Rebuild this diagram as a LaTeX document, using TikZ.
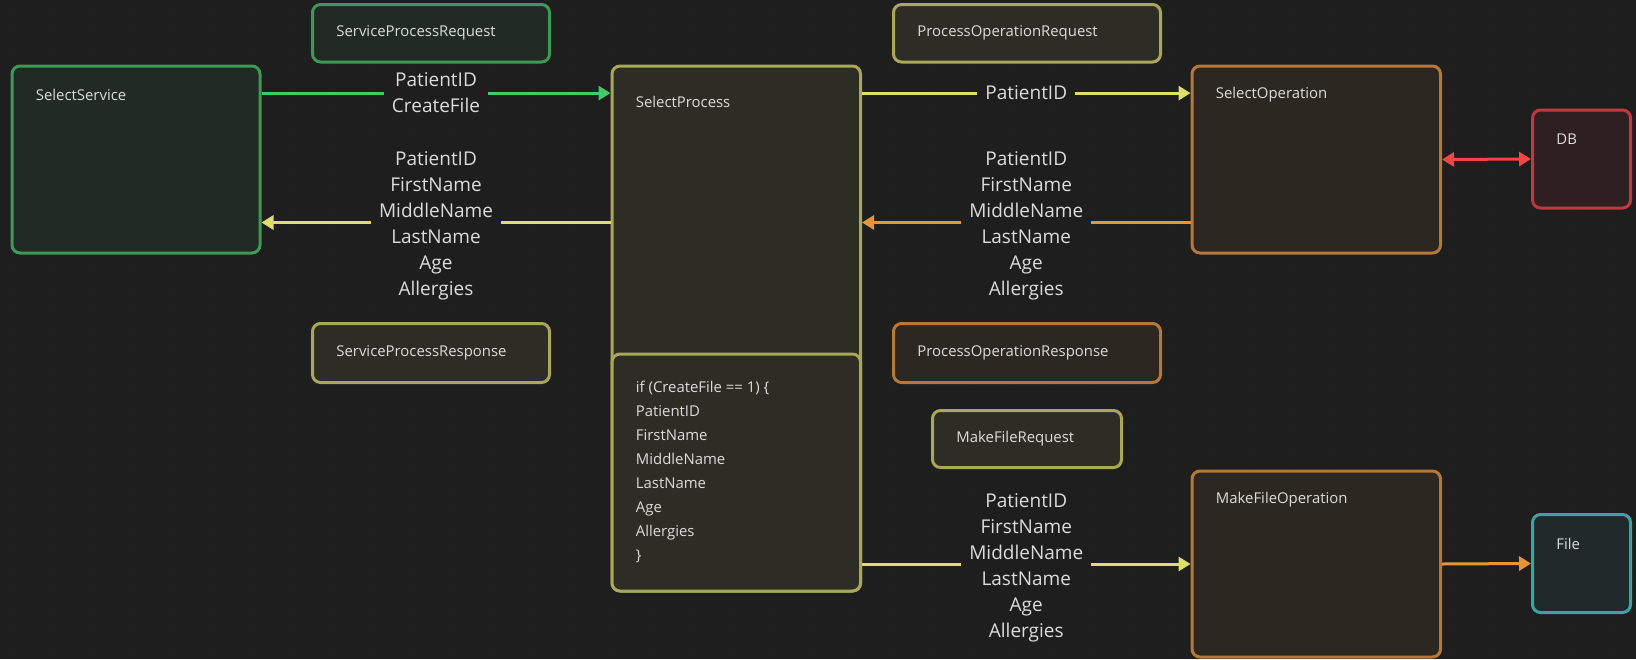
\documentclass[tikz,border=0pt]{standalone}
\usepackage{fontspec}
\setmainfont{Open Sans}
\usepackage{xcolor}
\usetikzlibrary{arrows.meta}

\definecolor{bgc}{HTML}{1E1E1E}
\definecolor{dotc}{HTML}{2C2C2C}
\definecolor{txt}{HTML}{DCDCDC}
\definecolor{gline}{HTML}{3C9A55}\definecolor{gfill}{HTML}{212A24}\definecolor{garrow}{HTML}{45C865}
\definecolor{yline}{HTML}{A9A85A}\definecolor{yfill}{HTML}{2D2C25}\definecolor{yarrow}{HTML}{DEDE6A}
\definecolor{oline}{HTML}{B5773A}\definecolor{ofill}{HTML}{2D2722}\definecolor{oarrow}{HTML}{E8943A}
\definecolor{rline}{HTML}{C0393F}\definecolor{rfill}{HTML}{2E1F21}\definecolor{rarrow}{HTML}{F04646}
\definecolor{tline}{HTML}{3AA5A5}\definecolor{tfill}{HTML}{202A2B}

\begin{document}
\begin{tikzpicture}[
  x=0.5pt, y=-0.5pt,
  box/.style={draw, line width=1.5pt, rounded corners=4pt, anchor=north west, inner sep=0pt},
  gbox/.style={box, draw=gline, fill=gfill},
  ybox/.style={box, draw=yline, fill=yfill},
  obox/.style={box, draw=oline, fill=ofill},
  rbox/.style={box, draw=rline, fill=rfill},
  tbox/.style={box, draw=tline, fill=tfill},
  boxlabel/.style={anchor=west, xshift=12.5pt, text=txt, inner sep=0pt,
                   font=\fontsize{7.45}{12}\selectfont},
  toptitle/.style={label={[boxlabel, yshift=-15.25pt]north west:#1}},
  midtitle/.style={label={[boxlabel]west:#1}},
  flowlabel/.style={fill=bgc, text=txt, align=center, inner xsep=4pt, inner ysep=1pt,
                    font=\fontsize{9.5}{13}\selectfont},
  fields/.style={flowlabel, yshift=-1.8pt},
  tip/.style={-{Triangle[length=6pt,width=7pt]}},
  flow/.style={line width=1.5pt, tip},
  >=Stealth
]
  \useasboundingbox (0,0) rectangle (1636,659);
  \fill[bgc] (0,0) rectangle (1636,659);
  \foreach \i in {0,...,81}
    \foreach \j in {0,...,32}
      \fill[dotc] (12+20*\i,10+20*\j) circle[radius=0.35pt];

  % services and processes
  \node[gbox, minimum width=124pt, minimum height=93.5pt, toptitle=SelectService] (ss) at (10.5,64.5) {};
  \node[gbox, minimum width=118.5pt, minimum height=28.75pt, midtitle=ServiceProcessRequest] (spreq) at (311,3) {};
  \node[ybox, minimum width=118.5pt, minimum height=29.5pt, midtitle=ServiceProcessResponse] (spresp) at (311,322) {};
  \node[ybox, minimum width=124.25pt, minimum height=262.5pt,
        label={[boxlabel, yshift=-18.5pt]north west:SelectProcess}] (sp) at (610.5,64.5) {};
  \node[ybox, minimum width=124.25pt, minimum height=118.5pt] (code) at (610.5,352.5) {};
  \node[anchor=north west, align=left, text=txt, inner sep=0pt, font=\fontsize{7.45}{12}\selectfont]
        (codelines) at ([xshift=12.5pt,yshift=-14.3pt]code.north west)
        {if (CreateFile == 1) \{\\PatientID\\FirstName\\MiddleName\\LastName\\Age\\Allergies\\\}};

  % operations
  \node[ybox, minimum width=133.5pt, minimum height=28.75pt, midtitle=ProcessOperationRequest] (poreq) at (892,3) {};
  \node[obox, minimum width=133.5pt, minimum height=29.5pt, midtitle=ProcessOperationResponse] (poresp) at (892,322) {};
  \node[ybox, minimum width=94.5pt, minimum height=28.5pt, midtitle=MakeFileRequest] (mfreq) at (931,409) {};
  \node[obox, minimum width=124.25pt, minimum height=93.5pt, toptitle=SelectOperation] (so) at (1190.5,64.5) {};
  \node[obox, minimum width=124.25pt, minimum height=93pt, toptitle=MakeFileOperation] (mfo) at (1190.5,469.5) {};
  \node[rbox, minimum width=49pt, minimum height=49pt, toptitle=DB] (db) at (1531,108.5) {};
  \node[tbox, minimum width=49pt, minimum height=49pt, toptitle=File] (file) at (1531,513) {};

  % flows
  \draw[flow, garrow] ([yshift=-14.3pt]ss.north east) -- node[flowlabel] {PatientID\\CreateFile} ([yshift=-14.3pt]sp.north west);
  \draw[flow, yarrow] ([yshift=-79pt]sp.north west) -- node[fields] {PatientID\\FirstName\\MiddleName\\LastName\\Age\\Allergies} ([yshift=-79pt]ss.north east);
  \draw[flow, yarrow] ([yshift=-14.3pt]sp.north east) -- node[flowlabel] {PatientID} ([yshift=-14.3pt]so.north west);
  \draw[flow, oarrow] ([yshift=-79pt]so.north west) -- node[fields] {PatientID\\FirstName\\MiddleName\\LastName\\Age\\Allergies} ([yshift=-79pt]sp.north east);
  \draw[line width=1.5pt, rarrow, {Triangle[length=6pt,width=7pt]}-{Triangle[length=6pt,width=7pt]}] (so.east) -- (db.west);
  \draw[flow, yarrow] (code.east |- mfo.west) -- node[fields] {PatientID\\FirstName\\MiddleName\\LastName\\Age\\Allergies} (mfo.west);
  \draw[flow, oarrow] (mfo.east) -- (file.west);
\end{tikzpicture}
\end{document}
